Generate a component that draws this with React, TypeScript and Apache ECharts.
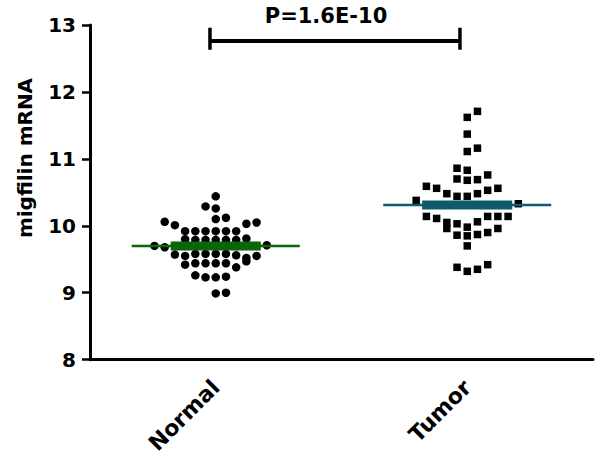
import React, { useEffect, useRef } from "react";
import * as echarts from "echarts";

const categories = ["Normal", "Tumor"];
const yTicks = { min: 8, max: 13, interval: 1 };
const yTitle = "migfilin mRNA";
const pLabel = "P=1.6E-10";

// [beeswarm column, value]
const normalPoints: [number, number][] = [
  [0, 10.44],
  [-1, 10.29], [0, 10.26],
  [0, 10.1], [1, 10.12],
  [-5, 10.06], [-4, 10.01], [3, 10.03], [4, 10.05],
  [-3, 9.92], [-2, 9.92], [-1, 9.92], [0, 9.92], [1, 9.92], [2, 9.92],
  [-3, 9.8], [-2, 9.79], [-1, 9.79], [0, 9.79], [1, 9.79], [2, 9.79], [3, 9.81],
  [-6, 9.7], [-5, 9.68], [-4, 9.7], [-3, 9.7], [-2, 9.7], [-1, 9.7], [0, 9.7], [1, 9.7], [2, 9.7], [3, 9.7], [4, 9.7], [5, 9.71],
  [-4, 9.57], [-3, 9.55], [-2, 9.58], [-1, 9.58], [0, 9.58], [1, 9.58], [2, 9.56], [3, 9.52], [4, 9.55],
  [-3, 9.42], [-2, 9.44], [-1, 9.44], [0, 9.44], [1, 9.44], [2, 9.38], [3, 9.47],
  [-2, 9.26], [-1, 9.23], [0, 9.23], [1, 9.24],
  [0, 8.99], [1, 9.0],
];

const tumorPoints: [number, number][] = [
  [1, 11.71], [0, 11.62],
  [0, 11.37],
  [1, 11.16], [0, 11.11],
  [-1, 10.86], [0, 10.83],
  [-1, 10.7], [0, 10.68], [1, 10.69], [2, 10.76],
  [-4, 10.59], [-3, 10.56], [-2, 10.48], [-1, 10.44], [0, 10.44], [1, 10.48], [2, 10.53], [3, 10.56],
  [-5, 10.38], [-4, 10.31], [-3, 10.31], [-2, 10.31], [-1, 10.31], [0, 10.31], [1, 10.31], [2, 10.31], [3, 10.31], [4, 10.31], [5, 10.33],
  [-4, 10.14], [-3, 10.11], [-2, 10.05], [-1, 10.03], [0, 9.98], [1, 10.06], [2, 10.14], [3, 10.14], [4, 10.14],
  [-2, 9.96], [-1, 9.86], [0, 9.85], [1, 9.87], [2, 9.9], [3, 9.96],
  [0, 9.7],
  [-1, 9.38], [0, 9.32], [1, 9.35], [2, 9.42],
];

const means = [9.7, 10.31];
const bracketY = 12.76;
const bracketCapTop = 12.96;
const bracketCapBottom = 12.63;

const COL_STEP = 0.0406;
const THIN_HALF = 0.334;
const THICK_HALF = 0.179;
const BR_LEFT = -0.023;
const BR_RIGHT = 0.971;

const FONT = "DejaVu Sans";
const colors = ["#0b650b", "#0f5a6c"];

export default function App() {
  const ref = useRef<HTMLDivElement>(null);
  useEffect(() => {
    if (!ref.current) return;
    const chart = echarts.init(ref.current, null, { renderer: "svg" });
    const toXY = (pts: [number, number][], gi: number) =>
      pts.map(([c, v]) => [gi + c * COL_STEP, v]);
    const series: any[] = [
      {
        type: "scatter",
        xAxisIndex: 1,
        symbol: "circle",
        symbolSize: 8.5,
        itemStyle: { color: "#000", opacity: 1 },
        data: toXY(normalPoints, 0),
        z: 2,
      },
      {
        type: "scatter",
        xAxisIndex: 1,
        symbol: "rect",
        symbolSize: 7.5,
        itemStyle: { color: "#000", opacity: 1 },
        data: toXY(tumorPoints, 1),
        z: 2,
      },
    ];
    means.forEach((m, gi) => {
      series.push({
        type: "line",
        xAxisIndex: 1,
        symbol: "none",
        lineStyle: { color: colors[gi], width: 2.5 },
        data: [[gi - THIN_HALF, m], [gi + THIN_HALF, m]],
        z: 3,
      });
      series.push({
        type: "line",
        xAxisIndex: 1,
        symbol: "none",
        lineStyle: { color: colors[gi], width: 9 },
        data: [[gi - THICK_HALF, m], [gi + THICK_HALF, m]],
        z: 4,
      });
    });
    series.push({
      type: "line",
      xAxisIndex: 1,
      symbol: "none",
      lineStyle: { color: "#000", width: 4 },
      data: [[BR_LEFT, bracketY], [BR_RIGHT, bracketY]],
      z: 5,
    });
    [BR_LEFT, BR_RIGHT].forEach((x) =>
      series.push({
        type: "line",
        xAxisIndex: 1,
        symbol: "none",
        lineStyle: { color: "#000", width: 3.5 },
        data: [[x, bracketCapTop], [x, bracketCapBottom]],
        z: 5,
      })
    );

    chart.setOption({
      animation: false,
      backgroundColor: "#fff",
      grid: { left: 90, right: 7, top: 25, bottom: 96 },
      xAxis: [
        {
          type: "category",
          data: categories,
          boundaryGap: true,
          axisLine: { onZero: false, lineStyle: { color: "#000", width: 3 } },
          axisTick: { alignWithLabel: true, length: 7, lineStyle: { color: "#000", width: 2.5 } },
          axisLabel: {
            rotate: 45,
            margin: 24,
            color: "#000",
            fontFamily: FONT,
            fontWeight: "bold",
            fontSize: 22,
          },
        },
        {
          type: "value",
          min: -0.5,
          max: 1.5,
          show: false,
          axisLine: { show: false, onZero: false },
        },
      ],
      yAxis: {
        type: "value",
        min: yTicks.min,
        max: yTicks.max,
        interval: yTicks.interval,
        axisLine: { show: true, onZero: false, lineStyle: { color: "#000", width: 3 } },
        axisTick: { show: true, length: 8, lineStyle: { color: "#000", width: 2.5 } },
        splitLine: { show: false },
        axisLabel: {
          margin: 14,
          color: "#000",
          fontFamily: FONT,
          fontWeight: "bold",
          fontSize: 20,
        },
      },
      graphic: [
        {
          type: "text",
          x: 25,
          y: 158,
          rotation: Math.PI / 2,
          style: {
            text: yTitle,
            fontFamily: FONT,
            fontWeight: "bold",
            fontSize: 20,
            fill: "#000",
            textAlign: "center",
            textVerticalAlign: "middle",
          },
        },
        {
          type: "text",
          x: 326,
          y: 16,
          style: {
            text: pLabel,
            fontFamily: FONT,
            fontWeight: "bold",
            fontSize: 21,
            fill: "#000",
            textAlign: "center",
            textVerticalAlign: "middle",
          },
        },
      ],
      series,
    });
    return () => chart.dispose();
  }, []);
  return (
    <div
      ref={ref}
      style={{ position: "fixed", left: 0, top: 0, width: 600, height: 457 }}
    />
  );
}
